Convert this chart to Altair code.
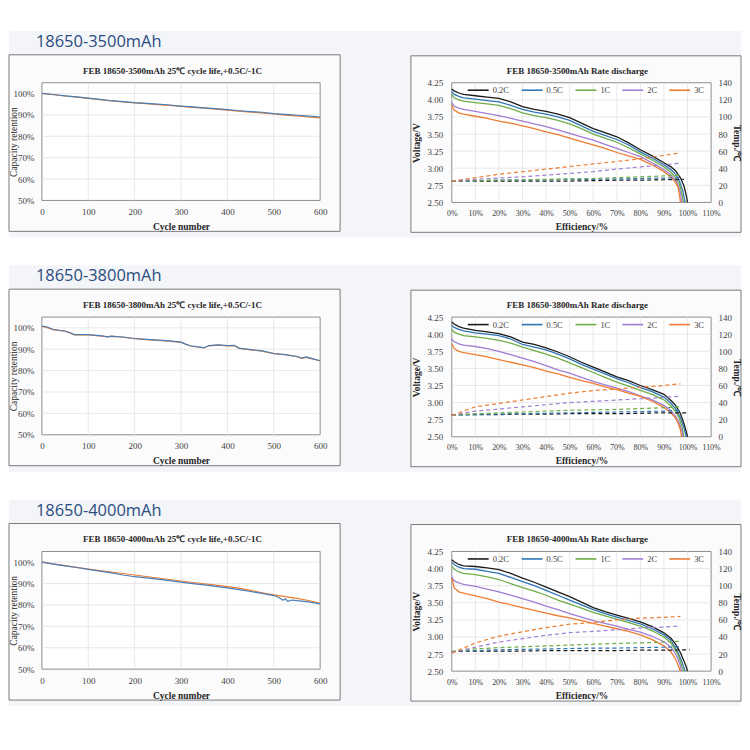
import altair as alt
import pandas as pd

# ---------------- text ----------------
HEADINGS = ["18650-3500mAh", "18650-3800mAh", "18650-4000mAh"]
CYCLE_TITLES = ["FEB 18650-3500mAh 25℃ cycle life,+0.5C/-1C",
                "FEB 18650-3800mAh 25℃ cycle life,+0.5C/-1C",
                "FEB 18650-4000mAh 25℃ cycle life,+0.5C/-1C"]
RATE_TITLES = ["FEB 18650-3500mAh Rate discharge",
               "FEB 18650-3800mAh Rate discharge",
               "FEB 18650-4000mAh Rate discharge"]
RATES = ["0.2C", "0.5C", "1C", "2C", "3C"]
RATE_COLORS = ["#1a1a1a", "#2e75b6", "#70ad47", "#a07ed3", "#ed7d31"]
# series "a" = orange (drawn first), "b" = blue (drawn on top)
CYC_COLORS = ["#ed7d31", "#4a7db5"]

# ---------------- cycle life data ----------------
C_STEP = [0, 25, 50, 75, 100, 125, 150, 175, 200, 225, 250, 275, 300, 325, 350,
          375, 400, 425, 450, 475, 500, 525, 550, 575, 600]

R1_BLUE = [1.000, 0.995, 0.989, 0.984, 0.978, 0.972, 0.966, 0.962, 0.957, 0.954, 0.950, 0.946, 0.941,
           0.937, 0.933, 0.929, 0.924, 0.919, 0.915, 0.912, 0.906, 0.902, 0.898, 0.894, 0.890]
R1_ORANGE = [1.000, 0.994, 0.988, 0.983, 0.977, 0.971, 0.965, 0.960, 0.956, 0.952, 0.948, 0.944, 0.940,
             0.935, 0.931, 0.927, 0.922, 0.917, 0.913, 0.909, 0.904, 0.899, 0.895, 0.890, 0.886]

C2 = [0, 10, 25, 50, 60, 70, 100, 130, 140, 150, 175, 200, 225, 250, 275, 300, 310, 320, 340, 350,
      360, 380, 400, 415, 425, 450, 475, 500, 525, 550, 560, 570, 585, 600]
R2_BLUE = [1.008, 1.005, 0.992, 0.985, 0.978, 0.968, 0.968, 0.962, 0.958, 0.961, 0.957, 0.950, 0.946,
           0.942, 0.939, 0.933, 0.924, 0.916, 0.910, 0.907, 0.917, 0.920, 0.917, 0.918, 0.905, 0.898,
           0.892, 0.880, 0.875, 0.866, 0.858, 0.864, 0.855, 0.846]
R2_ORANGE = [1.006, 1.002, 0.990, 0.984, 0.976, 0.967, 0.967, 0.961, 0.959, 0.960, 0.956, 0.949, 0.945,
             0.941, 0.938, 0.932, 0.923, 0.915, 0.909, 0.906, 0.916, 0.919, 0.916, 0.916, 0.904, 0.897,
             0.891, 0.879, 0.874, 0.865, 0.857, 0.862, 0.854, 0.845]

C3_BLUE = [0, 25, 50, 75, 100, 125, 150, 175, 200, 225, 250, 275, 300, 325, 350, 375, 400, 425, 450,
           475, 500, 510, 520, 525, 530, 540, 550, 575, 600]
R3_BLUE = [1.000, 0.991, 0.983, 0.975, 0.966, 0.958, 0.950, 0.940, 0.932, 0.927, 0.921, 0.914, 0.907,
           0.900, 0.894, 0.887, 0.880, 0.872, 0.863, 0.854, 0.844, 0.836, 0.822, 0.829, 0.817, 0.823,
           0.820, 0.814, 0.805]
R3_ORANGE = [1.000, 0.992, 0.984, 0.976, 0.968, 0.961, 0.954, 0.947, 0.940, 0.933, 0.926, 0.919, 0.912,
             0.905, 0.899, 0.893, 0.886, 0.879, 0.868, 0.857, 0.847, 0.839, 0.831, 0.821, 0.808]

CYC = [
    (C_STEP, R1_BLUE, C_STEP, R1_ORANGE),
    (C2, R2_BLUE, C2, R2_ORANGE),
    (C3_BLUE, R3_BLUE, C_STEP, R3_ORANGE),
]

# ---------------- rate discharge data ----------------
E_BODY = [0, 0.01, 0.03, 0.05, 0.10, 0.15, 0.20, 0.25, 0.30, 0.35, 0.40, 0.45, 0.50, 0.55, 0.60,
          0.65, 0.70, 0.75, 0.80, 0.85, 0.90]

R1_V_BODY = [
    [4.16, 4.13, 4.10, 4.08, 4.06, 4.04, 4.02, 3.97, 3.90, 3.86, 3.83, 3.79, 3.74, 3.66, 3.58, 3.52, 3.46, 3.37, 3.27, 3.18, 3.08],
    [4.12, 4.08, 4.05, 4.03, 4.01, 3.99, 3.97, 3.92, 3.86, 3.82, 3.79, 3.75, 3.70, 3.62, 3.54, 3.48, 3.42, 3.34, 3.24, 3.15, 3.05],
    [4.08, 4.03, 4.00, 3.98, 3.96, 3.94, 3.92, 3.87, 3.81, 3.77, 3.74, 3.70, 3.65, 3.58, 3.50, 3.44, 3.38, 3.30, 3.21, 3.12, 3.02],
    [3.96, 3.91, 3.88, 3.86, 3.83, 3.80, 3.77, 3.73, 3.69, 3.65, 3.61, 3.56, 3.51, 3.46, 3.41, 3.35, 3.29, 3.23, 3.17, 3.08, 2.98],
    [3.92, 3.85, 3.81, 3.79, 3.76, 3.73, 3.69, 3.66, 3.62, 3.58, 3.53, 3.49, 3.44, 3.39, 3.34, 3.29, 3.23, 3.18, 3.13, 3.05, 2.95],
]
R1_E_TAIL = [[0.93, 0.95, 0.97, 0.985, 0.995, 1.0], [0.93, 0.95, 0.965, 0.98, 0.99],
             [0.93, 0.95, 0.965, 0.975, 0.983], [0.93, 0.95, 0.96, 0.97, 0.977],
             [0.93, 0.95, 0.96, 0.965, 0.97]]
R1_V_TAIL = [[3.02, 2.96, 2.86, 2.74, 2.60, 2.50], [2.98, 2.91, 2.82, 2.67, 2.50],
             [2.94, 2.86, 2.77, 2.65, 2.50], [2.90, 2.82, 2.75, 2.64, 2.50],
             [2.87, 2.79, 2.72, 2.63, 2.50]]

R2_V_BODY = [
    [4.18, 4.15, 4.11, 4.09, 4.055, 4.035, 4.01, 3.96, 3.885, 3.85, 3.80, 3.74, 3.67, 3.59, 3.52, 3.45, 3.375, 3.32, 3.25, 3.19, 3.12],
    [4.13, 4.10, 4.07, 4.05, 4.02, 4.00, 3.98, 3.93, 3.85, 3.81, 3.77, 3.71, 3.64, 3.56, 3.49, 3.42, 3.35, 3.29, 3.22, 3.16, 3.08],
    [4.07, 4.03, 4.00, 3.98, 3.96, 3.94, 3.91, 3.87, 3.81, 3.76, 3.71, 3.65, 3.58, 3.51, 3.44, 3.37, 3.30, 3.24, 3.18, 3.12, 3.04],
    [3.93, 3.89, 3.86, 3.84, 3.82, 3.79, 3.75, 3.70, 3.65, 3.60, 3.54, 3.48, 3.43, 3.37, 3.31, 3.26, 3.21, 3.16, 3.10, 3.04, 2.96],
    [3.86, 3.79, 3.75, 3.73, 3.70, 3.67, 3.63, 3.59, 3.55, 3.51, 3.46, 3.42, 3.37, 3.32, 3.28, 3.23, 3.19, 3.14, 3.09, 3.02, 2.93],
]
R2_E_TAIL = [[0.93, 0.95, 0.97, 0.985, 0.995, 1.0], [0.93, 0.95, 0.97, 0.985, 0.995],
             [0.93, 0.95, 0.965, 0.978, 0.985], [0.93, 0.95, 0.965, 0.975, 0.98],
             [0.93, 0.95, 0.96, 0.97, 0.975]]
R2_V_TAIL = [[3.03, 2.96, 2.84, 2.69, 2.57, 2.50], [2.99, 2.91, 2.78, 2.63, 2.50],
             [2.95, 2.87, 2.77, 2.63, 2.50], [2.88, 2.80, 2.70, 2.60, 2.50],
             [2.85, 2.77, 2.70, 2.60, 2.50]]

R3_V_BODY = [
    [4.13, 4.10, 4.06, 4.04, 4.03, 4.01, 3.985, 3.93, 3.86, 3.80, 3.73, 3.66, 3.59, 3.51, 3.43, 3.37, 3.32, 3.27, 3.22, 3.15, 3.06],
    [4.09, 4.06, 4.02, 4.00, 3.99, 3.96, 3.93, 3.87, 3.81, 3.75, 3.68, 3.61, 3.54, 3.47, 3.40, 3.34, 3.29, 3.24, 3.19, 3.12, 3.03],
    [4.03, 3.99, 3.95, 3.93, 3.91, 3.88, 3.84, 3.78, 3.72, 3.67, 3.61, 3.54, 3.48, 3.42, 3.36, 3.31, 3.26, 3.21, 3.16, 3.09, 3.00],
    [3.88, 3.82, 3.79, 3.77, 3.74, 3.70, 3.66, 3.61, 3.56, 3.51, 3.45, 3.40, 3.34, 3.29, 3.24, 3.20, 3.16, 3.11, 3.07, 3.01, 2.93],
    [3.86, 3.72, 3.66, 3.64, 3.60, 3.56, 3.51, 3.47, 3.43, 3.39, 3.35, 3.31, 3.28, 3.24, 3.20, 3.16, 3.12, 3.08, 3.03, 2.96, 2.87],
]
R3_E_TAIL = [[0.93, 0.95, 0.97, 0.985, 0.995, 1.0], [0.93, 0.945, 0.96, 0.975, 0.99],
             [0.93, 0.945, 0.96, 0.972, 0.983], [0.93, 0.945, 0.958, 0.968, 0.975],
             [0.93, 0.945, 0.955, 0.963, 0.97]]
R3_V_TAIL = [[2.98, 2.89, 2.77, 2.65, 2.56, 2.50], [2.95, 2.86, 2.77, 2.65, 2.50],
             [2.91, 2.83, 2.74, 2.62, 2.50], [2.85, 2.78, 2.69, 2.60, 2.50],
             [2.78, 2.70, 2.63, 2.56, 2.50]]

T_EFF = [0, 0.1, 0.2, 0.3, 0.4, 0.5, 0.6, 0.7, 0.8, 0.9, 0.97]
R1_TEMP = [
    [25, 25, 25, 25, 25, 25, 25.5, 26, 26, 26.5, 27],
    [25, 25.5, 26, 26, 26.5, 27, 27, 27.5, 28, 28.5, 29],
    [25, 25.5, 26, 26.5, 27, 27.5, 28, 29, 30, 31, 32],
    [25, 27, 28.5, 30, 32, 34, 36, 39, 41.5, 44, 46],
    [25, 29, 33, 36, 39, 42, 45, 48, 51, 55, 58],
]
R2_TEMP = [
    [26, 26, 26, 26.5, 26.5, 27, 27, 27, 27.5, 28, 28],
    [25, 26, 26.5, 27, 27.5, 28, 28.5, 29, 29.5, 30, 31],
    [25, 27, 28, 29, 30, 31, 31.5, 32, 33, 34, 35],
    [25, 30, 32.5, 35, 37.5, 40, 41.5, 43, 44.5, 46, 47.5],
    [25, 35, 39, 43, 47, 51, 54, 56, 58, 60, 62],
]
R3_TEMP = [
    [23, 23.5, 23.5, 23.5, 24, 24, 24, 24, 24.5, 24.5, 25],
    [23, 24, 25, 25.5, 26, 26.5, 27, 27, 27.5, 28, 28.5],
    [23, 26, 27.5, 28.5, 29.5, 30.5, 31.5, 32.5, 33, 34, 35],
    [22, 28, 34, 38, 42, 45, 46.5, 48.5, 50.5, 51.5, 53],
    [21, 33, 41, 46, 51, 55, 57, 60, 62, 63, 64],
]
BLACK_T_END = [0.985, 1.0, 1.01]

RATE_DATA = [
    (R1_V_BODY, R1_E_TAIL, R1_V_TAIL, R1_TEMP),
    (R2_V_BODY, R2_E_TAIL, R2_V_TAIL, R2_TEMP),
    (R3_V_BODY, R3_E_TAIL, R3_V_TAIL, R3_TEMP),
]

# ---------------- ticks ----------------
CYC_TICKS = [0, 100, 200, 300, 400, 500, 600]
RET_TICKS = [0.5, 0.6, 0.7, 0.8, 0.9, 1.0]
CYC_GRID = [100, 200, 300, 400, 500]
RET_GRID = [0.6, 0.7, 0.8, 0.9, 1.0]
EFF_TICKS = [0, 0.1, 0.2, 0.3, 0.4, 0.5, 0.6, 0.7, 0.8, 0.9, 1.0, 1.1]
EFF_GRID = [0.1, 0.2, 0.3, 0.4, 0.5, 0.6, 0.7, 0.8, 0.9, 1.0]
V_TICKS = [2.5, 2.75, 3.0, 3.25, 3.5, 3.75, 4.0, 4.25]
V_GRID = [2.75, 3.0, 3.25, 3.5, 3.75, 4.0]
T_TICKS = [0, 20, 40, 60, 80, 100, 120, 140]

# ---------------- style ----------------
SERIF = "Liberation Serif"
LBL = "#404040"
TTL = "#262626"
GRIDC = "#e2e2e2"
BAND = "#f3f5f9"
PANEL = "#fbfbfc"
FRAME = "#7a7a7a"
PLOTSTROKE = "#8e8e8e"
HEADC = "#2b4c7e"

LW, LH = 279, 118
RW, RH = 260, 120


def one():
    return pd.DataFrame({"d": [0]})


def rect(x, x2, y, y2, **kw):
    return alt.Chart(one()).mark_rect(**kw).encode(
        x=alt.value(x), x2=alt.value(x2), y=alt.value(y), y2=alt.value(y2))


def label(text, x, y, **kw):
    return alt.Chart(one()).mark_text(text=text, **kw).encode(x=alt.value(x), y=alt.value(y))


def axis_common(**kw):
    base = dict(grid=False, ticks=False, domain=False, labelFont=SERIF, labelFontSize=9,
                labelColor=LBL, labelOverlap=False, labelFlush=False, titleFont=SERIF,
                titleColor=TTL, titleFontSize=9.5, titleBaseline="middle", zindex=1)
    base.update(kw)
    return alt.Axis(**base)


def cycle_panel(i):
    cb, rb, co, ro = CYC[i]
    df = pd.concat([
        pd.DataFrame({"cycle": co, "ret": ro, "s": "a"}),
        pd.DataFrame({"cycle": cb, "ret": rb, "s": "b"}),
    ])
    xs = alt.Scale(domain=[0, 600], nice=False, zero=False)
    ys = alt.Scale(domain=[0.5, 1.05], nice=False, zero=False)
    xa = axis_common(values=CYC_TICKS, labelPadding=7, title="Cycle number",
                     titleFontWeight="bold", titleY=26, titleX=LW / 2)
    ya = axis_common(values=RET_TICKS, format=".0%", labelPadding=8, title="Capacity retention",
                     titleFontWeight="normal", titleX=-28, titleY=LH / 2, titleAngle=270)
    band = rect(-33, 701, -52, 155, color=BAND)
    frame = rect(-33, LW + 20, -28, LH + 31, fill=PANEL, stroke=FRAME, strokeWidth=1)
    heading = label(HEADINGS[i], -6, -36, align="left", baseline="alphabetic", font="Open Sans",
                    fontSize=16.5, color=HEADC)
    title = label(CYCLE_TITLES[i], 131, -12, align="center", baseline="middle", font=SERIF,
                  fontSize=9, fontWeight="bold", color=TTL)
    plot = rect(0, LW, 0, LH, fill="#ffffff", stroke=PLOTSTROKE, strokeWidth=1)
    gx = alt.Chart(pd.DataFrame({"cycle": CYC_GRID})).mark_rule(color=GRIDC, strokeWidth=0.8).encode(
        x=alt.X("cycle:Q", scale=xs, axis=xa))
    gy = alt.Chart(pd.DataFrame({"ret": RET_GRID})).mark_rule(color=GRIDC, strokeWidth=0.8).encode(
        y=alt.Y("ret:Q", scale=ys, axis=ya))
    lines = alt.Chart(df).mark_line(strokeWidth=1.2).encode(
        x=alt.X("cycle:Q", scale=xs, axis=xa),
        y=alt.Y("ret:Q", scale=ys, axis=ya),
        color=alt.Color("s:N", scale=alt.Scale(domain=["a", "b"], range=CYC_COLORS), legend=None),
    )
    return alt.layer(band, frame, heading, title, plot, gx, gy, lines).properties(width=LW, height=LH)


def rate_panel(i):
    vbody, etail, vtail, temps = RATE_DATA[i]
    vrows = []
    trows = []
    for k, r in enumerate(RATES):
        vrows.append(pd.DataFrame({"eff": E_BODY + etail[k], "v": vbody[k] + vtail[k], "rate": r}))
        te = T_EFF[:-1] + [BLACK_T_END[i]] if k == 0 else T_EFF
        trows.append(pd.DataFrame({"eff": te, "t": temps[k], "rate": r}))
    vdf = pd.concat(vrows)
    tdf = pd.concat(trows)
    xs = alt.Scale(domain=[0, 1.1], nice=False, zero=False)
    vs = alt.Scale(domain=[2.5, 4.25], nice=False, zero=False)
    ts = alt.Scale(domain=[0, 140], nice=False, zero=False)
    cs = alt.Scale(domain=RATES, range=RATE_COLORS)
    xa = axis_common(values=EFF_TICKS, format=".0%", labelPadding=7, labelFontSize=8,
                     title="Efficiency/%", titleFontWeight="bold", titleY=24, titleX=RW / 2)
    va = axis_common(values=V_TICKS, format=".2f", labelPadding=9, title="Voltage/V",
                     titleFontWeight="bold", titleX=-35, titleY=RH / 2, titleAngle=270)
    ta = axis_common(orient="right", values=T_TICKS, labelPadding=7, title="Temp./℃",
                     titleFontWeight="bold", titleX=25, titleY=RH / 2, titleAngle=90)
    frame = rect(-41, RW + 30, -27, RH + 30, fill=PANEL, stroke=FRAME, strokeWidth=1)
    title = label(RATE_TITLES[i], 126, -12, align="center", baseline="middle", font=SERIF,
                  fontSize=9, fontWeight="bold", color=TTL)
    plot = rect(0, RW, 0, RH, fill="#ffffff", stroke=PLOTSTROKE, strokeWidth=1)
    gx = alt.Chart(pd.DataFrame({"eff": EFF_GRID})).mark_rule(color=GRIDC, strokeWidth=0.8).encode(
        x=alt.X("eff:Q", scale=xs, axis=xa))
    gy = alt.Chart(pd.DataFrame({"v": V_GRID})).mark_rule(color=GRIDC, strokeWidth=0.8).encode(
        y=alt.Y("v:Q", scale=vs, axis=va))
    volt = alt.Chart(vdf).mark_line(strokeWidth=1.3).encode(
        x=alt.X("eff:Q", scale=xs, axis=xa),
        y=alt.Y("v:Q", scale=vs, axis=va),
        color=alt.Color("rate:N", scale=cs, sort=RATES, title=None,
                        legend=alt.Legend(orient="none", legendX=15, legendY=-4, direction="horizontal",
                                          symbolType="stroke", symbolSize=440, symbolStrokeWidth=1.6,
                                          labelFont=SERIF, labelFontSize=8.5, labelColor=LBL,
                                          labelOffset=3, columnPadding=8, padding=0)),
        order=alt.Order("eff:Q"),
    )
    temp = alt.Chart(tdf).mark_line(strokeWidth=1.2, strokeDash=[4, 3]).encode(
        x=alt.X("eff:Q", scale=xs, axis=xa),
        y=alt.Y("t:Q", scale=ts, axis=ta),
        color=alt.Color("rate:N", scale=cs, sort=RATES, legend=None),
        order=alt.Order("eff:Q"),
    )
    inner = alt.layer(frame, title, plot, gx, gy, volt)
    return alt.layer(inner, temp).resolve_scale(y="independent", color="independent").properties(
        width=RW, height=RH)


panels = []
for i in range(3):
    panels.append(cycle_panel(i))
    panels.append(rate_panel(i))

chart = alt.concat(*panels, columns=2, spacing=alt.RowColnumber(row=115, column=132),
                   bounds="flush").properties(
    background="white",
    padding={"left": 0, "top": 22, "right": 0, "bottom": 0},
).configure_view(strokeWidth=0)

chart.save("out.html", embed_options={"renderer": "svg", "actions": False})
